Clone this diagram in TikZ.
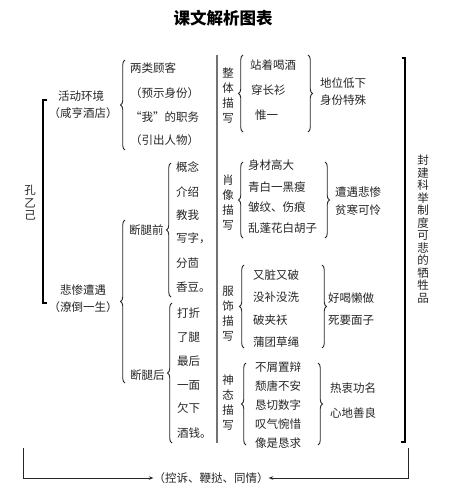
\documentclass[tikz,border=0pt]{standalone}
\usepackage{fontspec}
\setmainfont{Noto Sans CJK SC}
\usetikzlibrary{decorations.pathreplacing,arrows.meta}
\begin{document}
\begin{tikzpicture}[x=1pt,y=-1pt,
  txt/.style={inner sep=0pt, font=\fontsize{11.5}{13}\selectfont, text=black!85},
  item/.style={txt, anchor=west},
  vert/.style={txt, align=center, font=\fontsize{11.5}{15}\selectfont},
  lbrace/.style={draw=black!85, line width=0.9pt, decorate, decoration={brace, amplitude=4.5pt}},
  bracket/.style={draw=black, line width=1.4pt},
  sep/.style={draw=black!55, line width=1.1pt},
  conn/.style={draw=black!85, line width=0.8pt, -{Stealth[length=4.5pt,width=3.5pt]}}
]
\useasboundingbox (0,0) rectangle (455,495);
\fill[white] (0,0) rectangle (455,495);

% title
\node[inner sep=0pt, font=\fontsize{16.5}{18}\selectfont\bfseries] (title) at (223,18) {课文解析图表};

% left column
\node[vert, font=\fontsize{11.5}{12.5}\selectfont] (kong) at (30,203) {孔\\乙\\己};
\draw[bracket] (46.5,100) -- (43,100) -- (43,303) -- (47,303);
\node[txt] (env) at (81,96) {活动环境};
\node[txt] (envb) at (83,113) {（咸亨酒店）};
\node[txt] (fate) at (83,290) {悲惨遭遇};
\node[txt] (fateb) at (83,307) {（潦倒一生）};

% environment brace and items
\draw[lbrace] (125,150) -- (125,60);
\node[item] (e1) at (130,68) {两类顾客};
\node[item] (e2) at (130,93) {（预示身份）};
\node[item] (e3) at (130,117) {“我”的职务};
\node[item] (e4) at (130,140) {（引出人物）};

% fate brace
\draw[lbrace] (125,383) -- (125,220);
\node[item] (before) at (129,230) {断腿前};
\node[item] (after) at (130,375) {断腿后};
\draw[lbrace] (171,297) -- (171,163);
\draw[lbrace] (172,443) -- (172,303);
\node[item] (b1) at (176,167) {概念};
\node[item] (b2) at (176,192) {介绍};
\node[item] (b3) at (176,215) {教我};
\node[item] (b4) at (176,238) {写字，};
\node[item] (b5) at (176,263) {分茴};
\node[item] (b6) at (176,287) {香豆。};
\node[item] (a1) at (177,313) {打折};
\node[item] (a2) at (177,337) {了腿};
\node[item] (a3) at (177,361) {最后};
\node[item] (a4) at (177,386) {一面};
\node[item] (a5) at (177,408) {欠下};
\node[item] (a6) at (177,433) {酒钱。};

% separator
\draw[sep] (217,55) -- (217,443);

% descriptions
\node[vert] (d1) at (228,96) {整\\体\\描\\写};
\node[vert] (d2) at (228,203) {肖\\像\\描\\写};
\node[vert] (d3) at (228,314) {服\\饰\\描\\写};
\node[vert] (d4) at (228,403) {神\\态\\描\\写};

% whole
\draw[lbrace] (243,132) -- (243,55);
\node[item] (w1) at (250,65) {站着喝酒};
\node[item] (w2) at (251,90) {穿长衫};
\node[item] (w3) at (255,115) {惟一};
\draw[lbrace] (308,55) -- (308,132);
\node[item] (w4) at (320,83) {地位低下};
\node[item] (w5) at (320,100) {身份特殊};

% portrait
\draw[lbrace] (243,238) -- (243,162);
\node[item] (p1) at (248,165) {身材高大};
\node[item] (p2) at (248,187) {青白一黑瘦};
\node[item] (p3) at (248,207) {皱纹、伤痕};
\node[item] (p4) at (248,228) {乱蓬花白胡子};
\draw[lbrace] (325,162) -- (325,238);
\node[item] (p5) at (335,192) {遭遇悲惨};
\node[item] (p6) at (335,210) {贫寒可怜};

% clothing
\draw[lbrace] (244,348) -- (244,265);
\node[item] (c1) at (253,275) {又脏又破};
\node[item] (c2) at (253,297) {没补没洗};
\node[item] (c3) at (253,320) {破夹袄};
\node[item] (c4) at (253,342) {蒲团草绳};
\draw[lbrace] (322,265) -- (322,348);
\node[item] (c5) at (328,298) {好喝懒做};
\node[item] (c6) at (328,320) {死要面子};

% manner
\draw[lbrace] (246,445) -- (246,363);
\node[item] (m1) at (255,367) {不屑置辩};
\node[item] (m2) at (255,386) {颓唐不安};
\node[item] (m3) at (255,405) {恳切数字};
\node[item] (m4) at (255,424) {叹气惋惜};
\node[item] (m5) at (255,443) {像是恳求};
\draw[lbrace] (318,363) -- (318,445);
\node[item] (m6) at (330,388) {热衷功名};
\node[item] (m7) at (330,413) {心地善良};

% right bracket and conclusion
\draw[bracket] (401.5,58) -- (405,58) -- (405,442) -- (401,442);
\node[vert, font=\fontsize{11.5}{12.5}\selectfont] (concl) at (423,229) {封\\建\\科\\举\\制\\度\\可\\悲\\的\\牺\\牲\\品};

% bottom
\node[txt] (bottom) at (211,478) {（控诉、鞭挞、同情）};
\coordinate (lstart) at (23,448);
\coordinate (rstart) at (408,448);
\draw[conn] (lstart) |- (bottom.west);
\draw[conn] (rstart) |- (bottom.east);
\end{tikzpicture}
\end{document}
